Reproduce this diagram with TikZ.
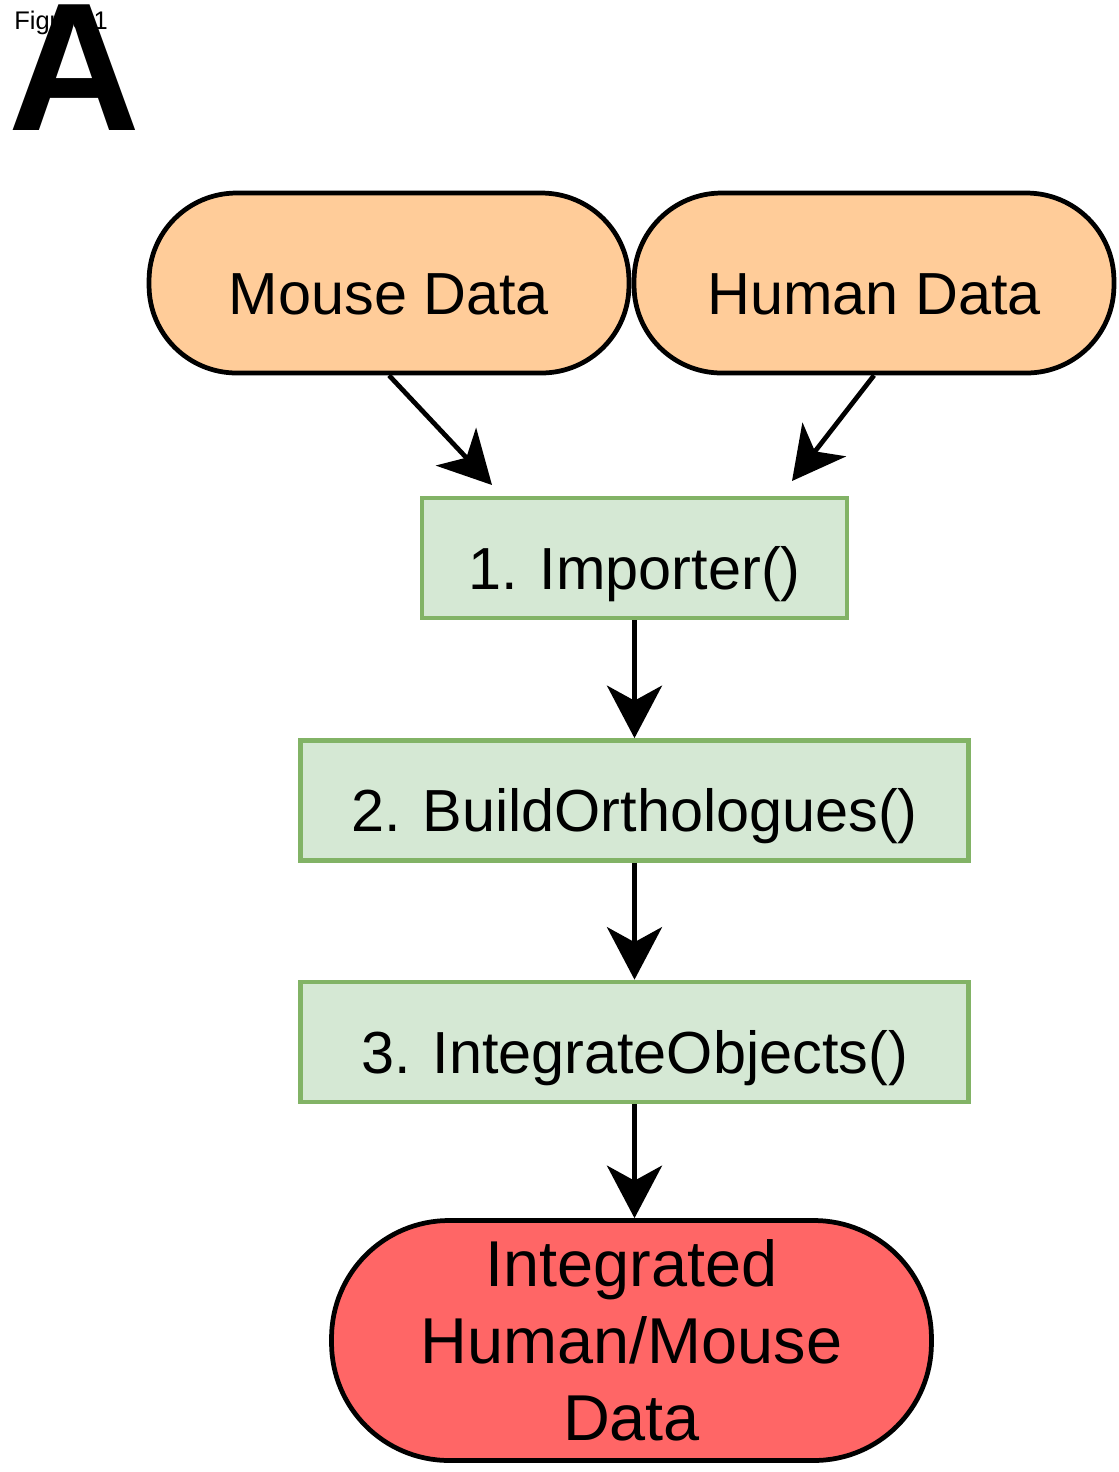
\documentclass[tikz,border=0pt]{standalone}
\usepackage{fontspec}
\setmainfont{Liberation Sans}
\usetikzlibrary{arrows.meta}

\definecolor{dataorange}{HTML}{FFCC99}
\definecolor{stepgreen}{HTML}{D5E8D4}
\definecolor{stepedge}{HTML}{82B366}
\definecolor{resultred}{HTML}{FF6666}

\tikzset{
    datanode/.style={rectangle,rounded corners=1.75cm,draw=black,line width=2.7pt,fill=dataorange,
        minimum width=9.6cm,minimum height=3.6cm,text height=35.5pt,text depth=0pt,
        font=\fontsize{33.8}{40}\selectfont},
    stepbox/.style={rectangle,draw=stepedge,line width=2.7pt,fill=stepgreen,
        minimum height=2.4cm,text height=35.5pt,text depth=0pt,font=\fontsize{33.8}{40}\selectfont},
    resultnode/.style={rectangle,rounded corners=2.35cm,draw=black,line width=2.7pt,fill=resultred,
        minimum width=12cm,minimum height=4.8cm,align=center,font=\fontsize{36.9}{44}\selectfont},
    flow/.style={line width=2.7pt,-{Stealth[length=1.05cm,width=1.1cm,inset=0.3cm]}}
}

\begin{document}
\begin{tikzpicture}[x=0.02cm,y=-0.02cm]
        \useasboundingbox (0,0) rectangle (1119,1472);

        \node[anchor=west,inner sep=0pt,font=\fontsize{14.5}{14.5}\selectfont] at (14,23) (figlabel) {Figure 1};
        \node[anchor=south west,inner sep=0pt,font=\fontsize{104}{104}\selectfont\bfseries] at (8,131) (panel) {A};

        \node[datanode] at (389,283) (mouse) {Mouse Data};
        \node[datanode] at (874,283) (human) {Human Data};

        \node[stepbox,minimum width=8.5cm] at (634.5,558) (importer) {1. Importer()};
        \node[stepbox,minimum width=13.35cm] at (634.5,800.5) (ortho) {2. BuildOrthologues()};
        \node[stepbox,minimum width=13.35cm] at (634.5,1042) (integrate) {3. IntegrateObjects()};

        \node[resultnode] at (631.5,1340.5) (result) {Integrated\\Human/Mouse\\Data};

        \draw[flow] (mouse.south) -- (492,485);
        \draw[flow] (human.south) -- (792,481);
        \draw[flow] (importer) -- (ortho);
        \draw[flow] (ortho) -- (integrate);
        \draw[flow] (integrate.south) -- (integrate.south |- result.north);
    \end{tikzpicture}
\end{document}
